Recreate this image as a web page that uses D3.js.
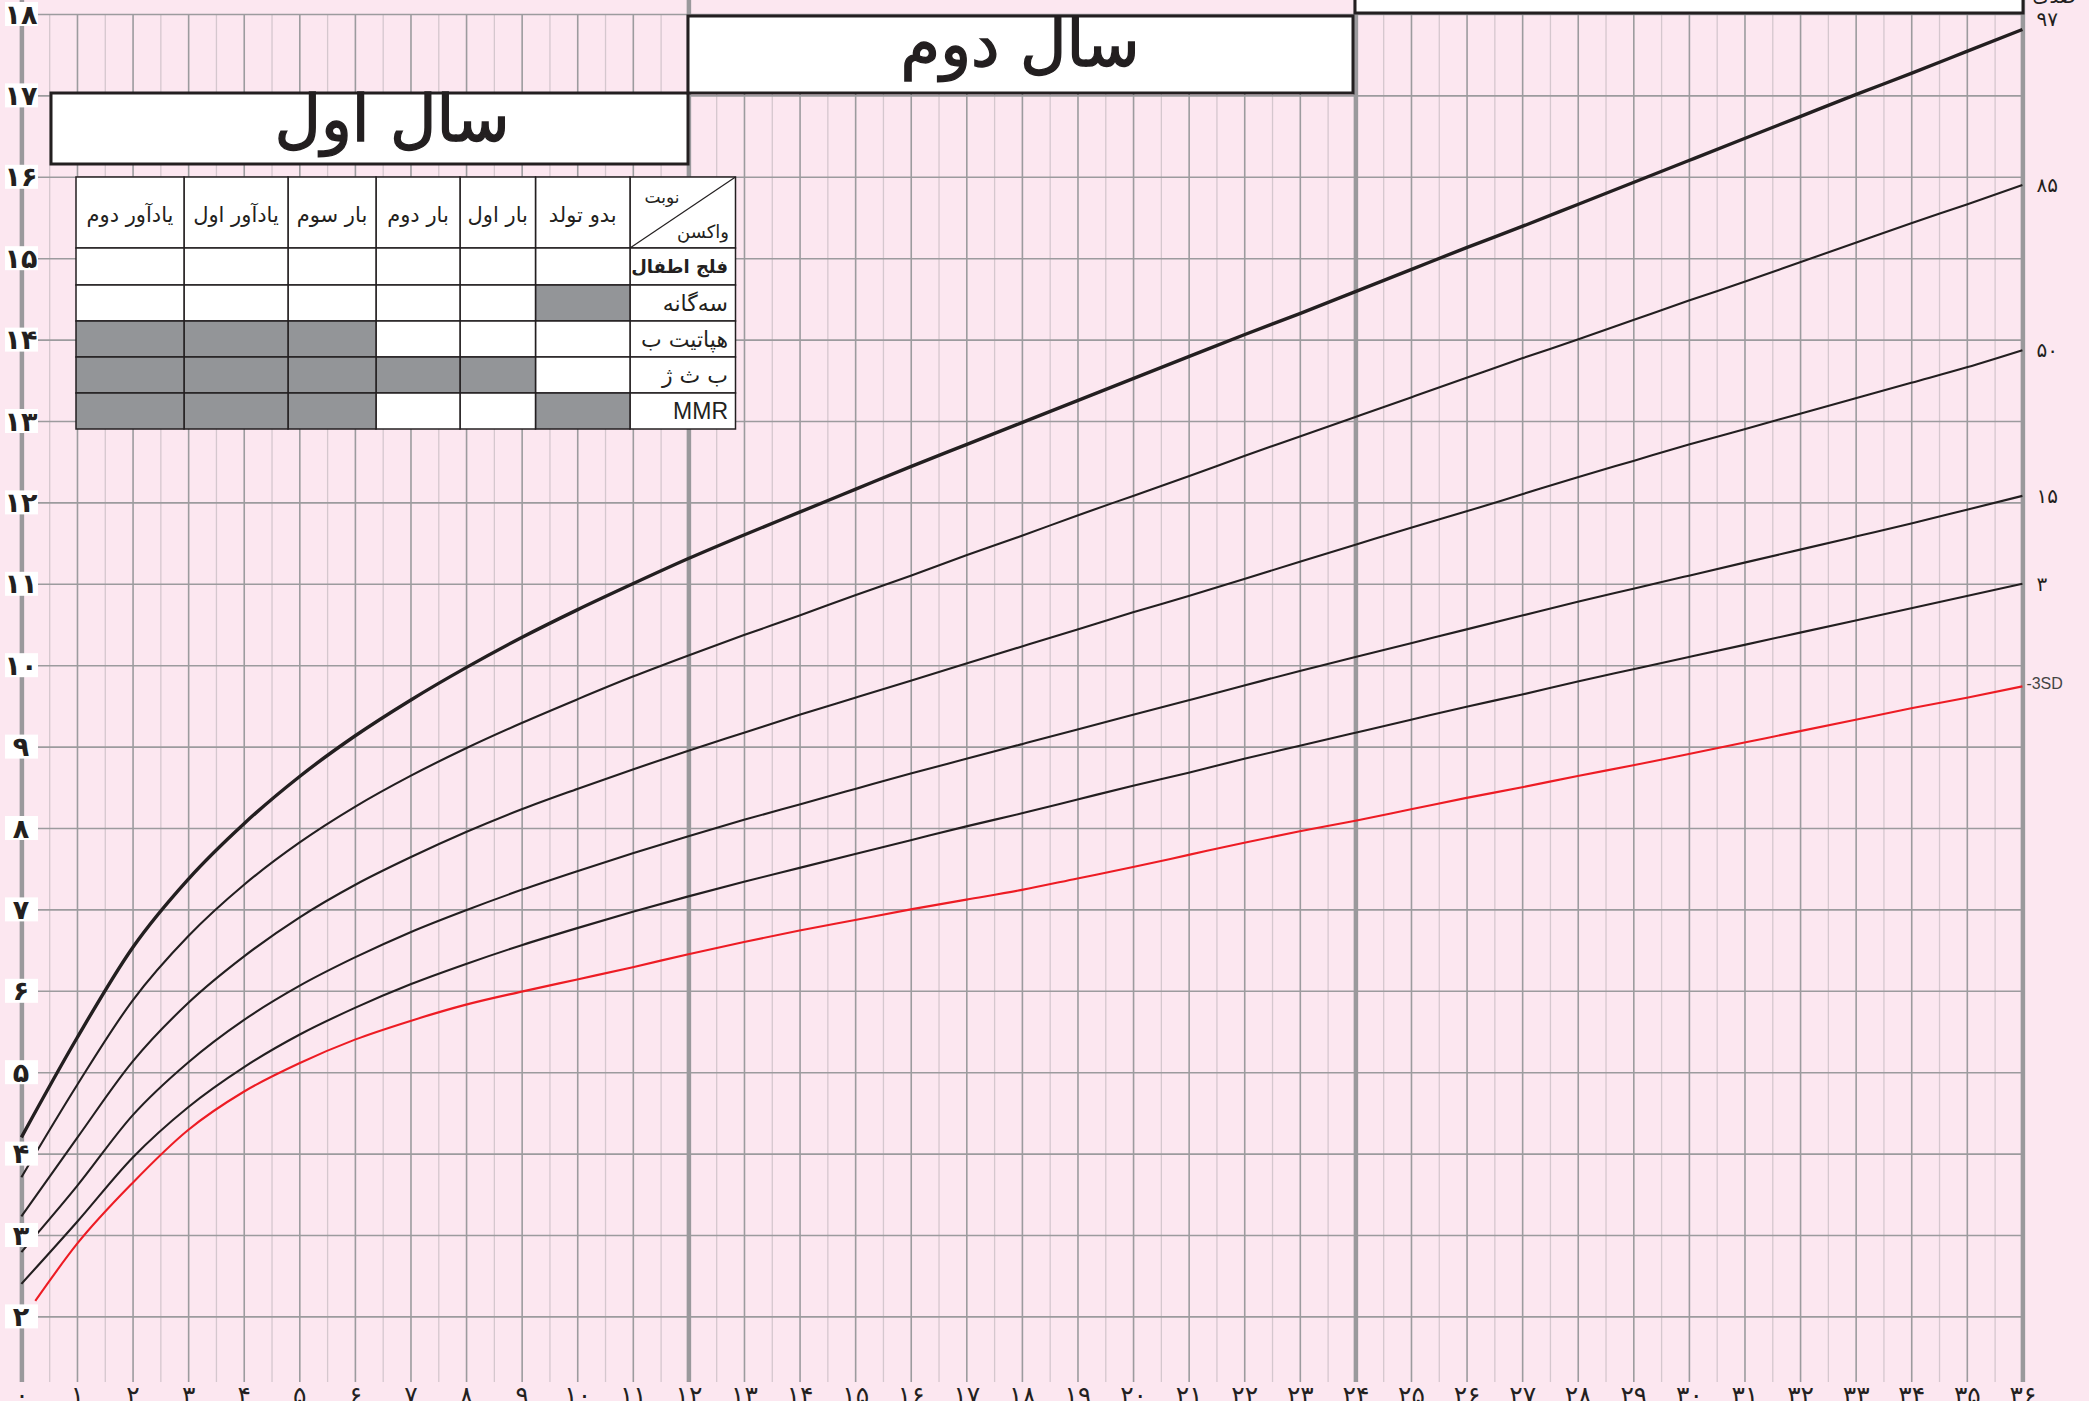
<!DOCTYPE html>
<html><head><meta charset="utf-8">
<script src="https://cdn.jsdelivr.net/npm/d3@7"></script>
<style>html,body{margin:0;padding:0;background:#fce7f0;}svg{display:block;}</style>
</head><body>
<svg id="chart" width="2089" height="1401"></svg>
<script>
// ---------- DATA ----------
const months = [0,1,2,3,4,5,6,7,8,9,10,11,12,13,14,15,16,17,18,19,20,21,22,23,24,25,26,27,28,29,30,31,32,33,34,35,36];
const p97 = [4.20,5.42,6.53,7.37,8.05,8.63,9.13,9.57,9.97,10.34,10.68,11.00,11.31,11.60,11.88,12.16,12.44,12.71,12.98,13.25,13.52,13.79,14.06,14.32,14.59,14.86,15.13,15.39,15.66,15.93,16.20,16.47,16.74,17.01,17.27,17.54,17.81];
const p85 = [3.71,4.84,5.88,6.67,7.30,7.82,8.26,8.64,8.98,9.29,9.58,9.86,10.12,10.37,10.61,10.86,11.10,11.35,11.59,11.84,12.08,12.32,12.57,12.81,13.05,13.29,13.53,13.77,14.00,14.24,14.48,14.71,14.95,15.19,15.43,15.66,15.90];
const p50 = [3.23,4.19,5.13,5.85,6.42,6.90,7.30,7.64,7.95,8.23,8.48,8.72,8.95,9.17,9.39,9.60,9.81,10.02,10.23,10.44,10.65,10.85,11.06,11.27,11.48,11.69,11.89,12.10,12.31,12.51,12.71,12.90,13.09,13.28,13.47,13.66,13.87];
const p15 = [2.79,3.60,4.47,5.12,5.64,6.06,6.41,6.72,6.99,7.24,7.47,7.69,7.90,8.10,8.29,8.48,8.67,8.85,9.03,9.21,9.39,9.57,9.75,9.93,10.10,10.27,10.44,10.61,10.78,10.94,11.10,11.26,11.42,11.58,11.74,11.91,12.08];
const p3  = [2.40,3.16,3.95,4.57,5.06,5.46,5.79,6.08,6.33,6.56,6.77,6.97,7.16,7.34,7.51,7.68,7.85,8.02,8.18,8.35,8.52,8.68,8.85,9.01,9.17,9.33,9.49,9.64,9.80,9.95,10.10,10.25,10.40,10.55,10.70,10.85,11.00];
const sdMonths = [0.25,1,2,3,4,5,6,7,8,9,10,11,12,13,14,15,16,17,18,19,20,21,22,23,24,25,26,27,28,29,30,31,32,33,34,35,36];
const minus3sd = [2.19,2.89,3.64,4.29,4.76,5.11,5.40,5.63,5.83,5.99,6.14,6.29,6.45,6.60,6.74,6.87,7.00,7.12,7.24,7.38,7.52,7.67,7.82,7.96,8.09,8.23,8.37,8.50,8.64,8.77,8.91,9.05,9.19,9.33,9.47,9.60,9.74];
const seriesNames = ['97','85','50','15','3'];
const sdName = '-3SD';
const yTicks = [2,3,4,5,6,7,8,9,10,11,12,13,14,15,16,17,18];
const xTicks = months;
const yearTitles = ['سال اول','سال دوم','سال سوم'];
const percentileTitle = 'صدک';
const doseCols = ['بدو تولد','بار اول','بار دوم','بار سوم','یادآور اول','یادآور دوم'];
const vaccineRows = ['فلج اطفال','سه‌گانه','هپاتیت ب','ب ث ژ','MMR'];
const shaded = [
  [0,0,0,0,0,0],
  [1,0,0,0,0,0],
  [0,0,0,1,1,1],
  [0,1,1,1,1,1],
  [1,0,0,1,1,1]
];
const headerTop = 'نوبت', headerBottom = 'واکسن';

// ---------- DRAW ----------
const fa = v => String(v).replace(/\d/g, d => '۰۱۲۳۴۵۶۷۸۹'[+d]);
const W = 2089, H = 1401;
const svg = d3.select('#chart');
const INK = '#231f20', GRID = '#9c9b9e', HALF = '#d5c7ce', THICK = '#9a999c';
const x = d3.scaleLinear().domain([0,36]).range([21.4, 2022.4]);
const y = d3.scaleLinear().domain([2,18]).range([1316.4, 14]);
const gridBottom = 1382, gridTop = y(18);

svg.append('rect').attr('width', W).attr('height', H).attr('fill', '#fce7f0');

// half-month lines
const halfTicks = months.slice(0,36).map(m => m + 0.5);
const gHalf = svg.append('g').attr('transform', `translate(0,${gridBottom})`)
  .call(d3.axisBottom(x).tickValues(halfTicks).tickSize(-(gridBottom-gridTop)).tickFormat(''));
gHalf.select('.domain').remove();
gHalf.selectAll('line').attr('stroke', HALF).attr('stroke-width', 1.3);

// month lines
const monthLines = months.filter(m => m % 12 !== 0);
const gMon = svg.append('g').attr('transform', `translate(0,${gridBottom})`)
  .call(d3.axisBottom(x).tickValues(monthLines).tickSize(-(gridBottom-gridTop)).tickFormat(''));
gMon.select('.domain').remove();
gMon.selectAll('line').attr('stroke', GRID).attr('stroke-width', 1.6);

// horizontal kg lines
const gH = svg.append('g').attr('transform', `translate(${x(0)},0)`)
  .call(d3.axisLeft(y).tickValues(yTicks).tickSize(-(x(36)-x(0))).tickFormat(''));
gH.select('.domain').remove();
gH.selectAll('line').attr('stroke', GRID).attr('stroke-width', 1.6);

// thick year lines
const gT = svg.append('g').attr('transform', `translate(0,${gridBottom})`)
  .call(d3.axisBottom(x).tickValues([0,12,24,36]).tickSize(-gridBottom).tickFormat(''));
gT.select('.domain').remove();
gT.selectAll('line').attr('stroke', THICK).attr('stroke-width', 4.5);

// curves
const line = d3.line().x(d => x(d[0])).y(d => y(d[1])).curve(d3.curveMonotoneX);
const series = [p97, p85, p50, p15, p3];
series.forEach((s, i) => {
  svg.append('path').datum(months.map((m, j) => [m, s[j]]))
    .attr('d', line).attr('fill', 'none').attr('stroke', INK)
    .attr('stroke-width', i === 0 ? 3.4 : 2.1).attr('stroke-linejoin', 'round');
});
svg.append('path').datum(sdMonths.map((m, j) => [m, minus3sd[j]]))
  .attr('d', line).attr('fill', 'none').attr('stroke', '#ed1c24').attr('stroke-width', 2.1);

// curve labels on the right
series.forEach((s, i) => {
  svg.append('text').attr('x', x(36) + 14).attr('y', y(s[s.length-1]) + (i === 0 ? -10 : 0))
    .attr('dominant-baseline', 'central')
    .attr('font-family', 'DejaVu Sans').attr('font-size', 20).attr('fill', INK)
    .text(fa(seriesNames[i]));
});
svg.append('text').attr('x', x(36) + 4).attr('y', y(minus3sd[minus3sd.length-1]) - 3)
  .attr('dominant-baseline', 'central')
  .attr('font-family', 'Liberation Sans').attr('font-size', 16).attr('fill', '#444')
  .text(sdName);
svg.append('text').attr('x', 2054).attr('y', 3).attr('text-anchor', 'middle')
  .attr('font-family', 'DejaVu Sans').attr('font-size', 19).attr('fill', INK)
  .text(percentileTitle);

// y labels
const gy = svg.append('g').selectAll('g').data(yTicks).join('g')
  .attr('transform', d => `translate(21,${y(d)})`);
gy.append('rect').attr('x', -16).attr('y', -12).attr('width', 33).attr('height', 24).attr('fill', '#fff');
gy.append('text').attr('text-anchor', 'middle').attr('dominant-baseline', 'central')
  .attr('font-family', 'DejaVu Sans').attr('font-weight', 'bold').attr('font-size', 27)
  .attr('fill', INK).text(d => fa(d));

// x labels
const gx = svg.append('g').attr('transform', `translate(0,${gridBottom})`)
  .call(d3.axisBottom(x).tickValues(xTicks).tickSize(0).tickPadding(4).tickFormat(d => fa(d)));
gx.select('.domain').remove();
gx.selectAll('text').attr('font-family', 'DejaVu Sans').attr('font-size', 25).attr('fill', INK);

// year title boxes
const boxes = [
  {x: 51, y: 93, w: 637, h: 71, tx: 392, ty: 141},
  {x: 688, y: 16, w: 665, h: 77, tx: 1020, ty: 66},
  {x: 1355, y: -64, w: 668, h: 77, tx: 1675, ty: -19}
];
boxes.forEach((b, i) => {
  svg.append('rect').attr('x', b.x).attr('y', b.y).attr('width', b.w).attr('height', b.h)
    .attr('fill', '#fff').attr('stroke', INK).attr('stroke-width', 3);
  svg.append('text').attr('x', b.tx).attr('y', b.ty).attr('text-anchor', 'middle')
    .attr('font-family', 'DejaVu Sans').attr('font-size', 64).attr('fill', INK)
    .attr('stroke', INK).attr('stroke-width', 1.4)
    .text(yearTitles[i]);
});

// vaccine table
const colEdges = [735.5, 630, 535.5, 460, 376, 288, 184, 76];
const rowEdges = [177, 248, 285, 321, 357, 393, 429];
const tg = svg.append('g');
tg.append('rect').attr('x', colEdges[1]).attr('y', rowEdges[0]).attr('width', colEdges[0]-colEdges[1])
  .attr('height', rowEdges[1]-rowEdges[0]).attr('fill', '#fff').attr('stroke', INK).attr('stroke-width', 1.5);
tg.append('line').attr('x1', colEdges[1]).attr('y1', rowEdges[1]).attr('x2', colEdges[0]).attr('y2', rowEdges[0])
  .attr('stroke', INK).attr('stroke-width', 1.2);
tg.append('text').attr('x', 662).attr('y', 203).attr('text-anchor', 'middle')
  .attr('font-family', 'DejaVu Sans').attr('font-size', 17).attr('fill', INK).text(headerTop);
tg.append('text').attr('x', 729).attr('y', 238).attr('text-anchor', 'end')
  .attr('font-family', 'DejaVu Sans').attr('font-size', 18).attr('fill', INK).text(headerBottom);
doseCols.forEach((c, j) => {
  const x0 = colEdges[j+2], x1 = colEdges[j+1];
  tg.append('rect').attr('x', x0).attr('y', rowEdges[0]).attr('width', x1-x0)
    .attr('height', rowEdges[1]-rowEdges[0]).attr('fill', '#fff').attr('stroke', INK).attr('stroke-width', 1.5);
  tg.append('text').attr('x', (x0+x1)/2).attr('y', 222).attr('text-anchor', 'middle')
    .attr('font-family', 'DejaVu Sans').attr('font-size', 21).attr('fill', INK).text(c);
});
vaccineRows.forEach((r, i) => {
  const y0 = rowEdges[i+1], y1 = rowEdges[i+2];
  tg.append('rect').attr('x', colEdges[1]).attr('y', y0).attr('width', colEdges[0]-colEdges[1])
    .attr('height', y1-y0).attr('fill', '#fff').attr('stroke', INK).attr('stroke-width', 1.5);
  tg.append('text').attr('x', 728).attr('y', (y0+y1)/2).attr('text-anchor', 'end')
    .attr('dominant-baseline', 'central')
    .attr('font-family', r === 'MMR' ? 'Liberation Sans' : 'DejaVu Sans')
    .attr('font-weight', i === 0 ? 'bold' : 'normal')
    .attr('font-size', r === 'MMR' ? 23 : (i === 0 ? 18 : 22)).attr('fill', INK).text(r);
  doseCols.forEach((c, j) => {
    const x0 = colEdges[j+2], x1 = colEdges[j+1];
    tg.append('rect').attr('x', x0).attr('y', y0).attr('width', x1-x0).attr('height', y1-y0)
      .attr('fill', shaded[i][j] ? '#939598' : '#fff').attr('stroke', INK).attr('stroke-width', 1.5);
  });
});
</script>
</body></html>
